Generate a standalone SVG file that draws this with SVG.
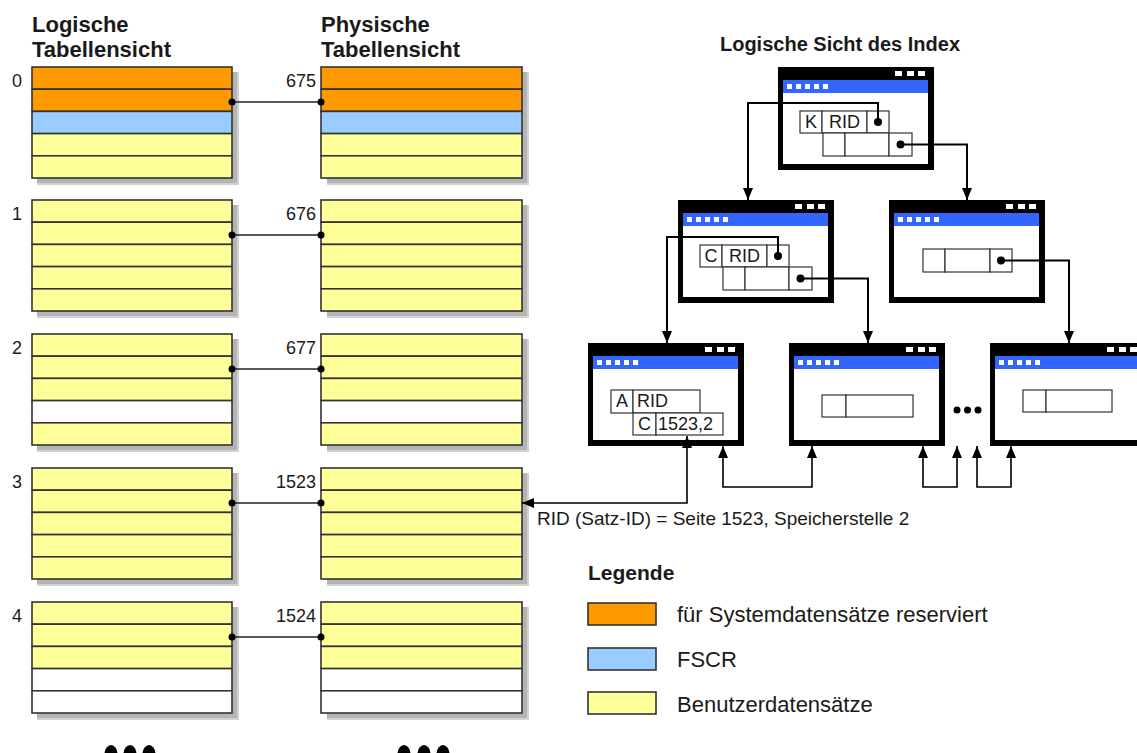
<svg xmlns="http://www.w3.org/2000/svg" xmlns:xlink="http://www.w3.org/1999/xlink" width="1137" height="753" viewBox="0 0 1137 753">
  <defs>
    <style>
      text { font-family: "Liberation Sans", Arial, sans-serif; fill: #1a1a1a; }
      .hdr { font-size: 22px; font-weight: bold; }
      .ttl { font-size: 20px; font-weight: bold; }
      .lg { font-size: 21px; font-weight: bold; }
      .num { font-size: 18px; }
      .ct { font-size: 18px; }
      .note { font-size: 19px; }
      .leg { font-size: 22px; }
      .o { fill: #ff9900; }
      .b { fill: #99ccff; }
      .y { fill: #ffff99; }
      .w { fill: #ffffff; }
      .row { stroke: #333; stroke-width: 1.6; }
      .shd { fill: #b4b4b4; }
      .shd2 { fill: #d2d2d2; }
      .link { stroke: #222; stroke-width: 1.5; fill: none; }
      .cell { fill: #fff; stroke: #333; stroke-width: 1.2; }
      .ptr { stroke: #000; stroke-width: 2; fill: none; marker-end: url(#ah); }
      .ptr2 { stroke: #000; stroke-width: 1.6; fill: none; marker-start: url(#ah); marker-end: url(#ah); }
    </style>
    <marker id="ah" viewBox="0 0 12 10" refX="12" refY="5" markerWidth="12" markerHeight="10" markerUnits="userSpaceOnUse" orient="auto-start-reverse">
      <path d="M0,0L12,5L0,10z" fill="#000"/>
    </marker>
    <!-- index page drawn as a small application window -->
    <g id="win">
      <rect width="156" height="103" fill="#000"/>
      <rect x="5" y="13" width="145" height="84" fill="#fff"/>
      <rect x="5" y="13" width="145" height="13" fill="#3366ff"/>
      <rect x="117" y="4" width="7" height="5" fill="#fff"/>
      <rect x="129" y="4" width="7" height="5" fill="#fff"/>
      <rect x="140" y="4" width="7" height="5" fill="#fff"/>
      <rect x="9" y="17" width="5" height="5" fill="#fff"/>
      <rect x="18" y="17" width="5" height="5" fill="#fff"/>
      <rect x="27" y="17" width="5" height="5" fill="#fff"/>
      <rect x="36" y="17" width="5" height="5" fill="#fff"/>
      <rect x="45" y="17" width="5" height="5" fill="#fff"/>
    </g>
    <!-- soft drop shadow for one table page (two tones) -->
    <g id="pshadow">
      <rect class="shd2" x="5" y="5" width="202" height="113"/>
      <rect class="shd" x="5" y="5" width="200" height="111"/>
    </g>
  </defs>

  <rect width="1137" height="753" fill="#fff"/>

  <!-- drop shadows of all table pages -->
  <g id="shadows">
    <use xlink:href="#pshadow" x="32" y="67"/>
    <use xlink:href="#pshadow" x="322" y="67"/>
    <use xlink:href="#pshadow" x="32" y="200"/>
    <use xlink:href="#pshadow" x="322" y="200"/>
    <use xlink:href="#pshadow" x="32" y="334"/>
    <use xlink:href="#pshadow" x="322" y="334"/>
    <use xlink:href="#pshadow" x="32" y="468"/>
    <use xlink:href="#pshadow" x="322" y="468"/>
    <use xlink:href="#pshadow" x="32" y="602"/>
    <use xlink:href="#pshadow" x="322" y="602"/>
  </g>

  <!-- column headings -->
  <g id="headings">
    <text class="hdr" x="32" y="32">Logische</text>
    <text class="hdr" x="32" y="57">Tabellensicht</text>
    <text class="hdr" x="321" y="32">Physische</text>
    <text class="hdr" x="321" y="57">Tabellensicht</text>
    <text class="ttl" x="840" y="51" text-anchor="middle">Logische Sicht des Index</text>
  </g>

  <!-- page 0 / 675 -->
  <g id="page0">
    <text class="num" x="12" y="87">0</text>
    <text class="num" x="316" y="87" text-anchor="end">675</text>
    <g transform="translate(32,67)">
      <rect class="row o" y="0" width="200" height="22.2"/>
      <rect class="row o" y="22.2" width="200" height="22.2"/>
      <rect class="row b" y="44.4" width="200" height="22.2"/>
      <rect class="row y" y="66.6" width="200" height="22.2"/>
      <rect class="row y" y="88.8" width="200" height="22.2"/>
    </g>
    <g transform="translate(321,67)">
      <rect class="row o" y="0" width="201" height="22.2"/>
      <rect class="row o" y="22.2" width="201" height="22.2"/>
      <rect class="row b" y="44.4" width="201" height="22.2"/>
      <rect class="row y" y="66.6" width="201" height="22.2"/>
      <rect class="row y" y="88.8" width="201" height="22.2"/>
    </g>
  </g>

  <!-- page 1 / 676 -->
  <g id="page1">
    <text class="num" x="12" y="220">1</text>
    <text class="num" x="316" y="220" text-anchor="end">676</text>
    <g transform="translate(32,200)">
      <rect class="row y" y="0" width="200" height="22.2"/>
      <rect class="row y" y="22.2" width="200" height="22.2"/>
      <rect class="row y" y="44.4" width="200" height="22.2"/>
      <rect class="row y" y="66.6" width="200" height="22.2"/>
      <rect class="row y" y="88.8" width="200" height="22.2"/>
    </g>
    <g transform="translate(321,200)">
      <rect class="row y" y="0" width="201" height="22.2"/>
      <rect class="row y" y="22.2" width="201" height="22.2"/>
      <rect class="row y" y="44.4" width="201" height="22.2"/>
      <rect class="row y" y="66.6" width="201" height="22.2"/>
      <rect class="row y" y="88.8" width="201" height="22.2"/>
    </g>
  </g>

  <!-- page 2 / 677 -->
  <g id="page2">
    <text class="num" x="12" y="354">2</text>
    <text class="num" x="316" y="354" text-anchor="end">677</text>
    <g transform="translate(32,334)">
      <rect class="row y" y="0" width="200" height="22.2"/>
      <rect class="row y" y="22.2" width="200" height="22.2"/>
      <rect class="row y" y="44.4" width="200" height="22.2"/>
      <rect class="row w" y="66.6" width="200" height="22.2"/>
      <rect class="row y" y="88.8" width="200" height="22.2"/>
    </g>
    <g transform="translate(321,334)">
      <rect class="row y" y="0" width="201" height="22.2"/>
      <rect class="row y" y="22.2" width="201" height="22.2"/>
      <rect class="row y" y="44.4" width="201" height="22.2"/>
      <rect class="row w" y="66.6" width="201" height="22.2"/>
      <rect class="row y" y="88.8" width="201" height="22.2"/>
    </g>
  </g>

  <!-- page 3 / 1523 -->
  <g id="page3">
    <text class="num" x="12" y="488">3</text>
    <text class="num" x="316" y="488" text-anchor="end">1523</text>
    <g transform="translate(32,468)">
      <rect class="row y" y="0" width="200" height="22.2"/>
      <rect class="row y" y="22.2" width="200" height="22.2"/>
      <rect class="row y" y="44.4" width="200" height="22.2"/>
      <rect class="row y" y="66.6" width="200" height="22.2"/>
      <rect class="row y" y="88.8" width="200" height="22.2"/>
    </g>
    <g transform="translate(321,468)">
      <rect class="row y" y="0" width="201" height="22.2"/>
      <rect class="row y" y="22.2" width="201" height="22.2"/>
      <rect class="row y" y="44.4" width="201" height="22.2"/>
      <rect class="row y" y="66.6" width="201" height="22.2"/>
      <rect class="row y" y="88.8" width="201" height="22.2"/>
    </g>
  </g>

  <!-- page 4 / 1524 -->
  <g id="page4">
    <text class="num" x="12" y="622">4</text>
    <text class="num" x="316" y="622" text-anchor="end">1524</text>
    <g transform="translate(32,602)">
      <rect class="row y" y="0" width="200" height="22.2"/>
      <rect class="row y" y="22.2" width="200" height="22.2"/>
      <rect class="row y" y="44.4" width="200" height="22.2"/>
      <rect class="row w" y="66.6" width="200" height="22.2"/>
      <rect class="row w" y="88.8" width="200" height="22.2"/>
    </g>
    <g transform="translate(321,602)">
      <rect class="row y" y="0" width="201" height="22.2"/>
      <rect class="row y" y="22.2" width="201" height="22.2"/>
      <rect class="row y" y="44.4" width="201" height="22.2"/>
      <rect class="row w" y="66.6" width="201" height="22.2"/>
      <rect class="row w" y="88.8" width="201" height="22.2"/>
    </g>
  </g>

  <!-- continuation marks below the tables -->
  <g id="more-pages" fill="#000">
    <ellipse cx="111" cy="754" rx="6.5" ry="9"/>
    <ellipse cx="130" cy="754" rx="6.5" ry="9"/>
    <ellipse cx="149" cy="754" rx="6.5" ry="9"/>
    <ellipse cx="404" cy="754" rx="6.5" ry="9"/>
    <ellipse cx="424" cy="754" rx="6.5" ry="9"/>
    <ellipse cx="443" cy="754" rx="6.5" ry="9"/>
  </g>

  <!-- index root -->
  <g id="idx-root">
    <use xlink:href="#win" x="778" y="67"/>
    <rect class="cell" x="800" y="111" width="22" height="22"/>
    <rect class="cell" x="822" y="111" width="45" height="22"/>
    <rect class="cell" x="867" y="111" width="22" height="22"/>
    <rect class="cell" x="823" y="133" width="22" height="23"/>
    <rect class="cell" x="845" y="133" width="44" height="23"/>
    <rect class="cell" x="889" y="133" width="23" height="23"/>
    <text class="ct" x="811" y="128" text-anchor="middle">K</text>
    <text class="ct" x="844.5" y="128" text-anchor="middle">RID</text>
    <circle cx="878" cy="122" r="4"/>
    <circle cx="900.5" cy="144.5" r="4"/>
  </g>

  <!-- index level 2, left -->
  <g id="idx-mid-left">
    <use xlink:href="#win" x="678" y="200"/>
    <rect class="cell" x="700" y="245" width="22" height="22"/>
    <rect class="cell" x="722" y="245" width="45" height="22"/>
    <rect class="cell" x="767" y="245" width="22" height="22"/>
    <rect class="cell" x="723" y="267" width="22" height="23"/>
    <rect class="cell" x="745" y="267" width="44" height="23"/>
    <rect class="cell" x="789" y="267" width="23" height="23"/>
    <text class="ct" x="711" y="262" text-anchor="middle">C</text>
    <text class="ct" x="744.5" y="262" text-anchor="middle">RID</text>
    <circle cx="778" cy="256" r="4"/>
    <circle cx="800.5" cy="278.5" r="4"/>
  </g>

  <!-- index level 2, right -->
  <g id="idx-mid-right">
    <use xlink:href="#win" x="889" y="200"/>
    <rect class="cell" x="923" y="249" width="22" height="23"/>
    <rect class="cell" x="945" y="249" width="45" height="23"/>
    <rect class="cell" x="990" y="249" width="22" height="23"/>
    <circle cx="1001" cy="260.5" r="4"/>
  </g>

  <!-- leaf pages -->
  <g id="idx-leaf-1">
    <use xlink:href="#win" x="588" y="343"/>
    <rect class="cell" x="611" y="390" width="22" height="23"/>
    <rect class="cell" x="633" y="390" width="67" height="23"/>
    <rect class="cell" x="633" y="413" width="23" height="22"/>
    <rect class="cell" x="656" y="413" width="67" height="22"/>
    <text class="ct" x="622" y="407" text-anchor="middle">A</text>
    <text class="ct" x="637" y="407">RID</text>
    <text class="ct" x="644.5" y="430" text-anchor="middle">C</text>
    <text class="ct" x="658" y="430">1523,2</text>
  </g>

  <g id="idx-leaf-2">
    <use xlink:href="#win" x="789" y="343"/>
    <rect class="cell" x="822" y="395" width="24" height="22"/>
    <rect class="cell" x="846" y="395" width="67" height="22"/>
  </g>

  <g id="idx-leaf-3">
    <use xlink:href="#win" x="990" y="343"/>
    <rect class="cell" x="1023" y="390" width="23" height="22"/>
    <rect class="cell" x="1046" y="390" width="66" height="22"/>
  </g>

  <g id="leaf-gap" fill="#000">
    <circle cx="957" cy="410" r="3.5"/>
    <circle cx="967.5" cy="410" r="3.5"/>
    <circle cx="978" cy="410" r="3.5"/>
  </g>

  <!-- connectors -->
  <g id="connectors">
    <!-- logical page to physical page -->
    <line class="link" x1="232" y1="102" x2="321" y2="102"/>
    <line class="link" x1="232" y1="235" x2="321" y2="235"/>
    <line class="link" x1="232" y1="369" x2="321" y2="369"/>
    <line class="link" x1="232" y1="503" x2="321" y2="503"/>
    <line class="link" x1="232" y1="637" x2="321" y2="637"/>
    <g fill="#000">
      <circle cx="232" cy="102" r="3.5"/><circle cx="321" cy="102" r="3.5"/>
      <circle cx="232" cy="235" r="3.5"/><circle cx="321" cy="235" r="3.5"/>
      <circle cx="232" cy="369" r="3.5"/><circle cx="321" cy="369" r="3.5"/>
      <circle cx="232" cy="503" r="3.5"/><circle cx="321" cy="503" r="3.5"/>
      <circle cx="232" cy="637" r="3.5"/><circle cx="321" cy="637" r="3.5"/>
    </g>
    <!-- index tree pointers -->
    <polyline class="ptr" points="878,122 878,103 748,103 748,200"/>
    <polyline class="ptr" points="900.5,144.5 967,144.5 967,200"/>
    <polyline class="ptr" points="778,256 778,237 667,237 667,343"/>
    <polyline class="ptr" points="800.5,278.5 868,278.5 868,343"/>
    <polyline class="ptr" points="1001,260.5 1069,260.5 1069,343"/>
    <!-- RID pointer into the data page -->
    <polyline class="ptr2" points="687,436 687,503 522,503"/>
    <!-- leaf chain -->
    <polyline class="ptr2" points="723,446 723,487 812,487 812,446"/>
    <polyline class="ptr2" points="923,446 923,487 957,487 957,446"/>
    <polyline class="ptr2" points="977,446 977,487 1011,487 1011,446"/>
  </g>

  <text class="note" x="537" y="525">RID (Satz-ID) = Seite 1523, Speicherstelle 2</text>

  <!-- legend -->
  <g id="legend">
    <text class="lg" x="588" y="580">Legende</text>
    <rect class="row o" x="588" y="603" width="68" height="22"/>
    <rect class="row b" x="588" y="648" width="68" height="22"/>
    <rect class="row y" x="588" y="692" width="68" height="22"/>
    <text class="leg" x="677" y="622">für Systemdatensätze reserviert</text>
    <text class="leg" x="677" y="667">FSCR</text>
    <text class="leg" x="677" y="712">Benutzerdatensätze</text>
  </g>
</svg>
